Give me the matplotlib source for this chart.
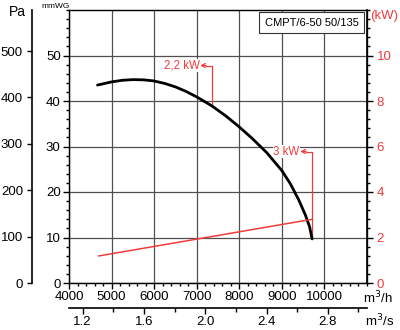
import matplotlib
matplotlib.use('Agg')
import matplotlib.pyplot as plt
from matplotlib.ticker import MultipleLocator

plt.rcParams['font.family'] = ['Liberation Sans', 'DejaVu Sans']

RED = '#f03c3c'
GRID = '#505050'

# pressure curve (m3/h, mmWG)
flow = [4670, 5000, 5250, 5500, 5750, 6000, 6250, 6500, 6750, 7000, 7360, 7700,
        8000, 8300, 8650, 9000, 9200, 9400, 9550, 9650, 9710]
press = [43.5, 44.2, 44.55, 44.7, 44.65, 44.4, 43.85, 43.1, 42.1, 40.9, 38.9, 36.6,
         34.3, 31.8, 28.6, 24.7, 21.8, 18.2, 15.0, 12.4, 9.7]

# absorbed power (m3/h, kW)
pow_flow = [4700, 9710]
pow_kw = [1.19, 2.8]

# motor markers
motor_labels = ['2,2 kW', '3 kW']
motor_flow = [7360, 9710]
motor_press = [38.9, 9.7]
motor_label_h = [47.8, 28.9]

MMWG_TO_PA = 9.80665

fig = plt.figure(figsize=(4, 3.3), dpi=100)
W, H = 400, 330
x0, x1, ytop, ybot = 69, 367, 10, 283
ax = fig.add_axes([x0 / W, (H - ybot) / H, (x1 - x0) / W, (ybot - ytop) / H])

ax.set_xlim(4000, 11000)
ax.set_ylim(0, 60)
ax.set_xticks(range(4000, 11000, 1000))
ax.set_xticklabels([str(v) for v in range(4000, 11000, 1000)])
ax.xaxis.set_minor_locator(MultipleLocator(200))
ax.set_yticks([0, 10, 20, 30, 40, 50])
ax.yaxis.set_minor_locator(MultipleLocator(2))
ax.grid(True, which='major', color=GRID, lw=0.9)
ax.tick_params(which='major', length=4, width=1, labelsize=9.5, pad=2)
ax.tick_params(which='minor', length=2.5, width=1)
for s in ax.spines.values():
    s.set_linewidth(1.0)
    s.set_color('#222222')

ax.plot(flow, press, color='black', lw=2, solid_capstyle='round',
        solid_joinstyle='round', zorder=5)

# kW axis on the right
ax2 = ax.twinx()
ax2.set_ylim(0, 12)
ax2.set_yticks([0, 2, 4, 6, 8, 10])
ax2.yaxis.set_minor_locator(MultipleLocator(0.4))
ax2.tick_params(which='major', length=4, width=1, labelsize=9.5, labelcolor=RED, pad=3)
ax2.tick_params(which='minor', length=2.5, width=1)
ax2.plot(pow_flow, pow_kw, color=RED, lw=1.1, zorder=4)
ax2.spines['right'].set_linewidth(1.2)

# motor markers
for lab, fx, fy, fh in zip(motor_labels, motor_flow, motor_press, motor_label_h):
    ax.plot([fx, fx, fx - 150], [fy, fh, fh], color=RED, lw=0.9, zorder=4)
    ax.annotate('', xy=(fx - 280, fh), xytext=(fx - 140, fh),
                arrowprops=dict(arrowstyle='->', color=RED, lw=0.9,
                                shrinkA=0, shrinkB=0, mutation_scale=7))
    ax.text(fx - 295, fh, lab, color=RED, fontsize=8.3, ha='right', va='center',
            zorder=4.5, bbox=dict(boxstyle='square,pad=0.05', fc='white', ec='none'))

# Pa axis further left
pa = ax.secondary_yaxis(-(x0 - 32) / (x1 - x0),
                        functions=(lambda v: v * MMWG_TO_PA, lambda v: v / MMWG_TO_PA))
pa.set_yticks([0, 100, 200, 300, 400, 500])
pa.tick_params(length=3.5, width=1, labelsize=9.5, pad=3)
pa.spines['left'].set_linewidth(1.2)

# m3/s axis below
ms = ax.secondary_xaxis(-(308 - ybot) / (ybot - ytop),
                        functions=(lambda v: v / 3600, lambda v: v * 3600))
ms.set_xticks([1.2, 1.6, 2.0, 2.4, 2.8])
ms.set_xticklabels(['1.2', '1.6', '2.0', '2.4', '2.8'])
ms.xaxis.set_minor_locator(MultipleLocator(0.2))
ms.tick_params(which='major', length=4, width=1, labelsize=9.5, pad=2)
ms.tick_params(which='minor', length=3, width=1)
ms.spines['bottom'].set_linewidth(1.2)

ax.text(0.815, 0.953, 'CMPT/6-50 50/135', transform=ax.transAxes, fontsize=8,
        ha='center', va='center', zorder=6,
        bbox=dict(boxstyle='square,pad=0.5', fc='white', ec='#333333', lw=0.8))

fig.text(17 / W, 1 - 12 / H, 'Pa', fontsize=10, ha='center', va='center')
fig.text(56 / W, 1 - 7 / H, 'mmWG', fontsize=6, ha='center', va='center')
fig.text(384 / W, 1 - 16 / H, '(kW)', fontsize=9.5, color=RED, ha='center', va='center')
fig.text(378 / W, 1 - 298 / H, 'm$^3$/h', fontsize=9.5, ha='center', va='center')
fig.text(380 / W, 1 - 321 / H, 'm$^3$/s', fontsize=9.5, ha='center', va='center')

fig.savefig('out.png', dpi=100)
